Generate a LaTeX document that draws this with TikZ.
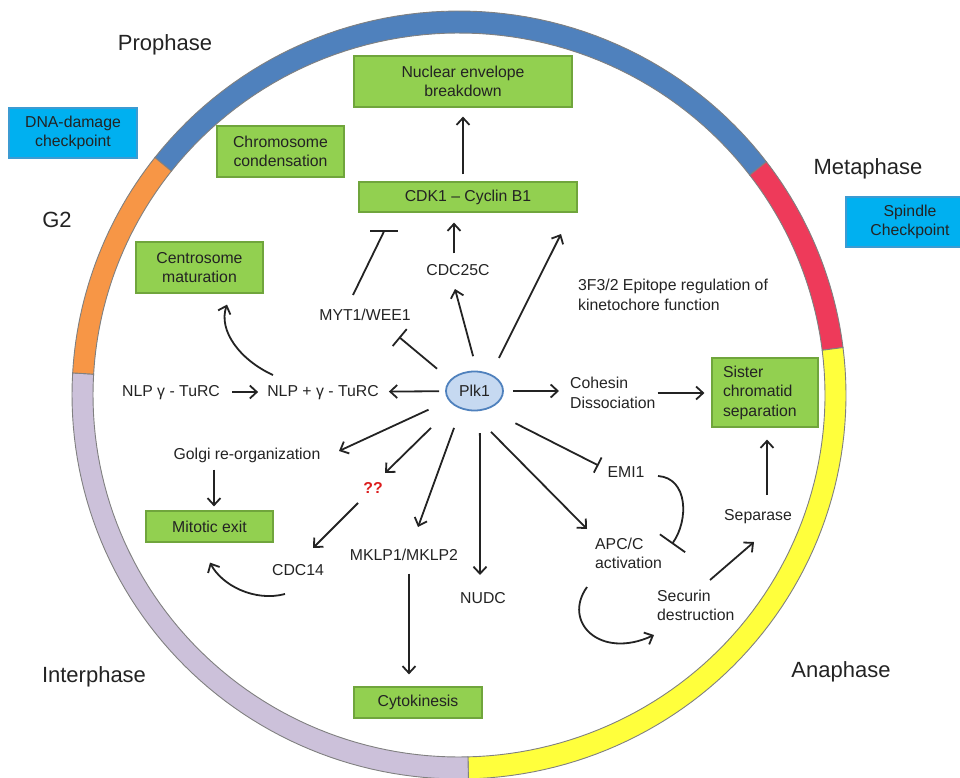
\documentclass[tikz,border=0pt]{standalone}
\usepackage{fontspec}
\setmainfont{Liberation Sans}
\usetikzlibrary{arrows.meta,shapes.geometric,calc}
\definecolor{ringblue}{RGB}{79,129,189}
\definecolor{ringred}{RGB}{238,58,90}
\definecolor{ringyellow}{RGB}{255,255,60}
\definecolor{ringpurple}{RGB}{204,193,218}
\definecolor{ringorange}{RGB}{247,150,70}
\definecolor{ringedge}{RGB}{128,128,128}
\definecolor{gfill}{RGB}{146,208,80}
\definecolor{gedge}{RGB}{112,165,60}
\definecolor{bfill}{RGB}{0,176,240}
\definecolor{bedge}{RGB}{60,155,210}
\definecolor{plkfill}{RGB}{198,217,241}
\definecolor{plkedge}{RGB}{79,129,189}
\definecolor{txt}{RGB}{35,35,35}
\definecolor{qred}{RGB}{220,30,30}
\newcommand\lblfont{\fontsize{15.8}{19.5}\selectfont}
\newcommand\phfont{\fontsize{22}{26}\selectfont}
\begin{document}
\begin{tikzpicture}[x=1pt,y=-1pt,
  lbl/.style={font=\lblfont, inner sep=0pt, text=txt},
  lbla/.style={lbl, text height=11.5pt, text depth=3.3pt},
  lblm/.style={lbl, align=left, anchor=west},
  gbox/.style={font=\lblfont, fill=gfill, draw=gedge, line width=1.2pt, align=center, inner sep=0pt, text=txt},
  bbox/.style={font=\lblfont, fill=bfill, draw=bedge, line width=1.2pt, align=center, inner sep=0pt, text=txt},
  phase/.style={font=\phfont, inner sep=0pt, text=txt},
  lw/.style={line width=1.8pt, draw=txt},
  arr/.style={lw, -{Straight Barb[length=7pt,width=13pt]}},
  seg/.style={draw=ringedge, line width=0.9pt}]
\useasboundingbox (0,0) rectangle (960,778);
\clip (0,0) rectangle (960,778);

% ---- ring ----
\filldraw[seg, fill=ringblue] plot[domain=-141.8:-37.4, samples=60] ({459+387*cos(\x)},{395+384*sin(\x)}) -- plot[domain=-37.4:-141.8, samples=60] ({459+366*cos(\x)},{395+362*sin(\x)}) -- cycle;
\filldraw[seg, fill=ringred] plot[domain=-37.4:-7.1, samples=30] ({459+387*cos(\x)},{395+384*sin(\x)}) -- plot[domain=-7.1:-37.4, samples=30] ({459+366*cos(\x)},{395+362*sin(\x)}) -- cycle;
\filldraw[seg, fill=ringyellow] plot[domain=-7.1:88.6, samples=60] ({459+387*cos(\x)},{395+384*sin(\x)}) -- plot[domain=88.6:-7.1, samples=60] ({459+366*cos(\x)},{395+362*sin(\x)}) -- cycle;
\filldraw[seg, fill=ringpurple] plot[domain=88.6:183.3, samples=60] ({459+387*cos(\x)},{395+384*sin(\x)}) -- plot[domain=183.3:88.6, samples=60] ({459+366*cos(\x)},{395+362*sin(\x)}) -- cycle;
\filldraw[seg, fill=ringorange] plot[domain=183.3:218.2, samples=30] ({459+387*cos(\x)},{395+384*sin(\x)}) -- plot[domain=218.2:183.3, samples=30] ({459+366*cos(\x)},{395+362*sin(\x)}) -- cycle;

% ---- phase labels ----
\node[phase] (pro) at (165,45) {Prophase};
\node[phase] (g2) at (57,220) {G2};
\node[phase] (meta) at (868,169) {Metaphase};
\node[phase] (inter) at (94,677) {Interphase};
\node[phase] (ana) at (841,672) {Anaphase};

% ---- boxes ----
\node[gbox, minimum width=218, minimum height=51] (nuc) at (463,81.5) {Nuclear envelope\\breakdown};
\node[gbox, minimum width=127, minimum height=51] (chrom) at (280.5,151.5) {Chromosome\\condensation};
\node[gbox, minimum width=218, minimum height=30] (cdk) at (468,197) {CDK1 – Cyclin B1};
\node[gbox, minimum width=127, minimum height=51] (centro) at (199.5,267.5) {Centrosome\\maturation};
\node[gbox, minimum width=127, minimum height=31] (mitotic) at (209.5,526.5) {Mitotic exit};
\node[gbox, minimum width=128, minimum height=31] (cyto) at (418,702.5) {Cytokinesis};
\node[gbox, minimum height=69, text width=84, inner xsep=11pt, align=left] (sister) at (765,392.5) {Sister\\chromatid\\separation};
\node[bbox, minimum width=128, minimum height=50] (dna) at (73,133) {DNA-damage\\checkpoint};
\node[bbox, minimum width=128, minimum height=50] (spindle) at (910,222) {Spindle\\Checkpoint};

% ---- Plk1 ----
\node[ellipse, minimum width=57, minimum height=39, inner sep=0pt, fill=plkfill, draw=plkedge, line width=1.8pt, font=\lblfont, text=txt] (plk) at (474.5,391) {Plk1};

% ---- labels ----
\node[lbla] (myt) at (365,316) {MYT1/WEE1};
\node[lbla] (cdc25) at (458,271) {CDC25C};
\node[lbla] (nlpg) at (171,392) {NLP γ - TuRC};
\node[lbla] (nlpp) at (323,392) {NLP + γ - TuRC};
\node[lbla] (golgi) at (247,455) {Golgi re-organization};
\node[lbla, text=qred, font=\lblfont\bfseries] (qq) at (373,489) {??};
\node[lbla] (cdc14) at (298,571) {CDC14};
\node[lbla] (mklp) at (404,556) {MKLP1/MKLP2};
\node[lbla] (nudc) at (483,599) {NUDC};
\node[lbla] (emi) at (626,473) {EMI1};
\node[lbla] (separase) at (758,516) {Separase};
\node[lblm] (f3) at (578,295) {3F3/2 Epitope regulation of\\kinetochore function};
\node[lblm] (cohesin) at (570,393) {Cohesin\\Dissociation};
\node[lblm] (apc) at (595,553.5) {APC/C\\activation};
\node[lblm] (securin) at (657,605.5) {Securin\\destruction};

% ---- connectors ----
\coordinate (kin) at (561,234);
\draw[arr, shorten <=6, shorten >=10] (plk) -- (nlpp);
\draw[arr, shorten <=9, shorten >=11] (plk) -- (cohesin.west |- plk);
\draw[arr, shorten <=2, shorten >=7] (cohesin.east) -- (sister.west |- cohesin.east);
\draw[arr, shorten <=15] (plk.83) -- ($(cdc25)+(-3,18)$);
\draw[arr, shorten <=18] (plk.46) -- (kin);
\draw[lw, -{Bar[width=22pt]}, shorten <=17] (plk.155) -- ($(myt)+(34,21)$);
\path ($(cdk.south west)+(26,18)$) coordinate (mb);
\draw[lw] ($(myt)+(-12,-21)$) -- (mb);
\draw[lw] ($(mb)+(-14,0)$) -- ($(mb)+(14,0)$);
\path ($(cdc25.north)+(-4,0)$) coordinate (c25);
\draw[arr, shorten <=10, shorten >=10] (c25) -- (c25 |- cdk.south);
\draw[arr, shorten <=7, shorten >=9] (nuc.south |- cdk.north) -- (nuc.south);
\draw[arr, shorten <=22] (plk.200) -- ($(golgi)+(92,-4)$);
\draw[arr, shorten <=32] (plk.215) -- ($(qq)+(12,-16)$);
\draw[arr] ($(qq)+(-15,14)$) -- ($(cdc14)+(15,-23)$);
\draw[arr, shorten <=20] (plk.233) -- ($(mklp)+(14,-29)$);
\draw[arr, shorten <=22] (plk.285) -- ($(nudc)+(-3,-24)$);
\draw[arr, shorten <=29] (plk.259) -- ($(apc.west)+(-8,-24.5)$);
\draw[lw, -{Bar[width=17pt]}, shorten <=31] (plk.306) -- ($(emi)+(-27.5,-7.5)$);
\draw[lw, -{Bar[width=31pt]}] ($(emi)+(32,3)$) .. controls ($(emi)+(62,5)$) and ($(apc.west)+(94,-33.5)$) .. ($(apc.west)+(77,-9.5)$);
\draw[arr] ($(apc.west)+(-8,33.5)$) .. controls ($(apc.west)+(-33,68.5)$) and ($(securin.west)+(-57,54.5)$) .. ($(securin.west)+(-3,29.5)$);
\draw[arr] ($(securin.west)+(53,-25.5)$) -- ($(separase)+(-4,26)$);
\path ($(separase)+(9,-21)$) coordinate (sp);
\draw[arr, shorten >=12] (sp) -- (sp |- sister.south);
\draw[arr, shorten <=12, shorten >=9] (nlpg) -- (nlpp);
\draw[arr] ($(nlpp)+(-50,-17)$) .. controls ($(nlpp)+(-83,-32)$) and ($(centro.south)+(18.5,37)$) .. ($(centro.south)+(27.5,11)$);
\path ($(golgi.south)+(-33,0)$) coordinate (gm);
\draw[arr, shorten <=7, shorten >=4] (gm) -- (gm |- mitotic.north);
\draw[arr] ($(cdc14)+(-13,23)$) .. controls ($(cdc14)+(-43,31)$) and ($(mitotic.south)+(12.5,43)$) .. ($(mitotic.south)+(0.5,20)$);
\path ($(mklp.south)+(5,0)$) coordinate (mk);
\draw[arr, shorten <=10, shorten >=12] (mk) -- (mk |- cyto.north);
\end{tikzpicture}
\end{document}
